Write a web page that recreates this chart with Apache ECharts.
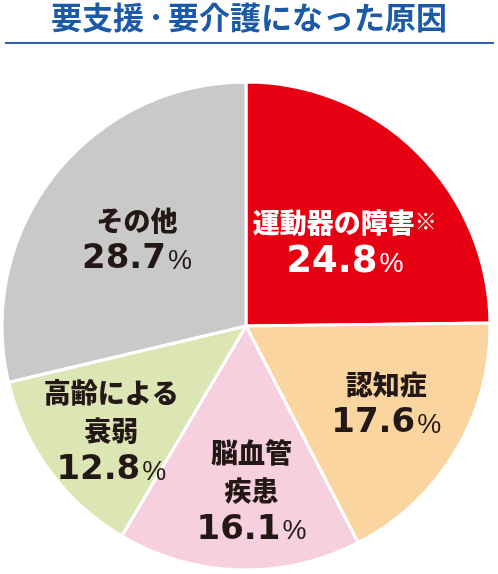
<!DOCTYPE html>
<html>
<head>
<meta charset="utf-8">
<script src="https://cdn.jsdelivr.net/npm/echarts@6/dist/echarts.min.js"></script>
<style>
  html, body { margin: 0; padding: 0; background: #fff; }
  #chart { width: 498px; height: 574px; }
</style>
</head>
<body>
<div id="chart"></div>
<script>
// 要支援・要介護になった原因
var categories = ['運動器の障害', '認知症', '脳血管\n疾患', '高齢による\n衰弱', 'その他'];
var values = [24.8, 17.6, 16.1, 12.8, 28.7];
var notes = ['※', '', '', '', ''];
var colors = ['#E60012', '#FAD5A0', '#F7D0E0', '#DCE6B4', '#C9C9CA'];
var textColors = ['#ffffff', '#231815', '#231815', '#231815', '#231815'];
// label nudges from the default inside position
var labelShift = [[11, 6], [33, 14], [9, 41], [-34, 32], [-11, -8]];

var chartDom = document.getElementById('chart');
var myChart = echarts.init(chartDom);
var cjk = '"Noto Sans CJK JP", "Noto Sans CJK SC", sans-serif';
var num = '"DejaVu Sans", sans-serif';

var pieData = categories.map(function (name, i) {
  return {
    name: name,
    value: values[i],
    itemStyle: { color: colors[i] },
    label: { color: textColors[i] }
  };
});

var option = {
  animation: false,
  title: {
    text: '{a|要支援}{d|・}{a|要介護になった原因}',
    left: 'center',
    top: 0,
    padding: 0,
    textStyle: {
      color: '#1C5AA8',
      rich: {
        a: { fontFamily: cjk, fontWeight: 'bold', fontSize: 31, color: '#1C5AA8', lineHeight: 34 },
        d: { fontFamily: cjk, fontWeight: 'bold', fontSize: 24, color: '#1C5AA8', lineHeight: 34 }
      }
    }
  },
  graphic: [{
    type: 'line',
    shape: { x1: 5, y1: 43, x2: 494, y2: 43 },
    style: { stroke: '#2A62AE', lineWidth: 2 }
  }],
  series: [{
    type: 'pie',
    center: [246, 326],
    radius: 244,
    startAngle: 90,
    clockwise: true,
    data: pieData,
    itemStyle: { borderColor: '#ffffff', borderWidth: 3 },
    label: {
      show: true,
      position: 'inside',
      formatter: function (p) {
        var i = p.dataIndex;
        var name = '{n|' + p.name + '}' + (notes[i] ? '{s|' + notes[i] + '}' : '');
        var v = i === 0 ? 'w' : 'v';
        return name + '\n{' + v + '|' + values[i].toFixed(1) + '}{p|%}';
      },
      rich: {
        n: { fontFamily: cjk, fontWeight: 900, fontSize: 27, lineHeight: 38 },
        s: { fontFamily: cjk, fontSize: 22, lineHeight: 38, padding: [0, 0, 4, 0] },
        v: { fontFamily: num, fontWeight: 'bold', fontSize: 34, lineHeight: 40 },
        w: { fontFamily: num, fontWeight: 'bold', fontSize: 37, lineHeight: 40 },
        p: { fontFamily: '"Liberation Sans", sans-serif', fontSize: 27, lineHeight: 40, padding: [4, 0, 0, 2] }
      }
    },
    labelLine: { show: false },
    labelLayout: function (params) {
      var s = labelShift[params.dataIndex];
      return { dx: s[0], dy: s[1] };
    }
  }]
};

option && myChart.setOption(option);
window.addEventListener('resize', function () {
  myChart.resize();
});
</script>
</body>
</html>
